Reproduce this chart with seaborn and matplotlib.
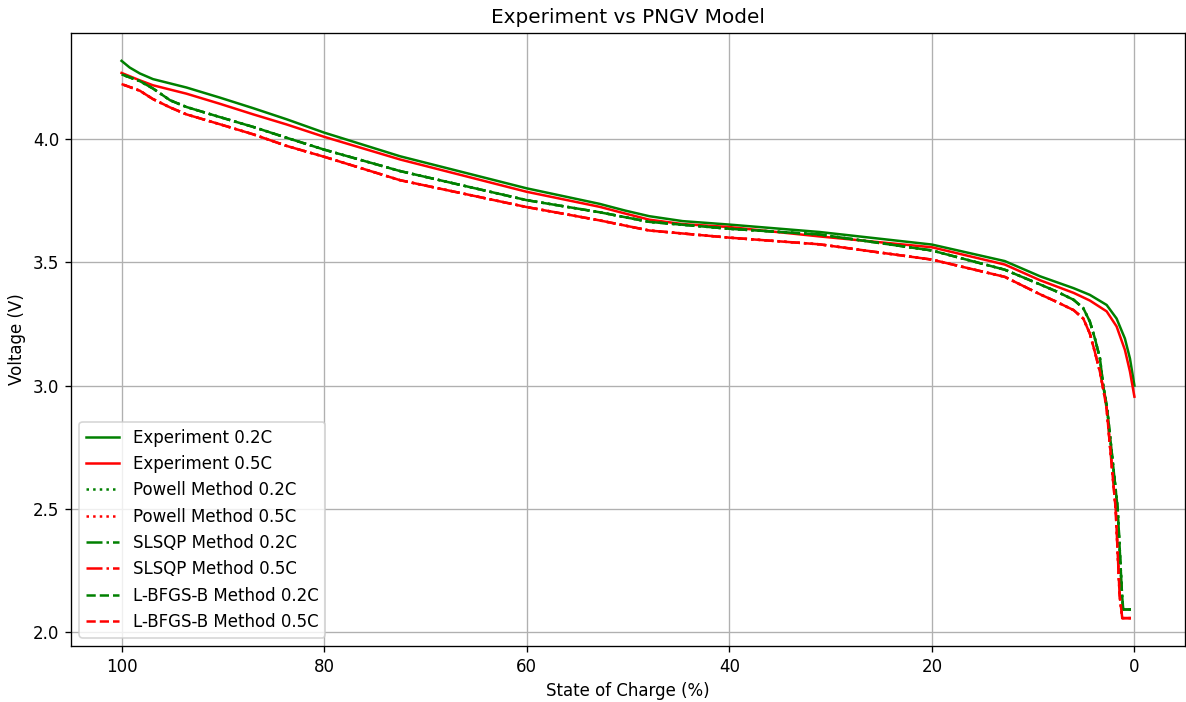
import matplotlib
matplotlib.use("Agg")
import matplotlib.pyplot as plt
import seaborn as sns

# Measured discharge curves (state of charge in %, terminal voltage in V)
soc_exp_02 = [100, 99.2, 98.2, 96.9, 93.6, 90.3, 87.0, 83.7, 80, 72.5, 60, 52.8, 50.3,
              47.9, 44.6, 40, 31.1, 20, 12.8, 9.3, 6.0, 4.4, 2.74, 1.76, 0.94, 0.44, 0]
v_exp_02 = [4.317, 4.29, 4.266, 4.243, 4.209, 4.168, 4.125, 4.08, 4.026, 3.93, 3.80, 3.737, 3.71,
            3.687, 3.667, 3.653, 3.623, 3.572, 3.505, 3.443, 3.395, 3.368, 3.327, 3.272, 3.191, 3.11, 3.0]

soc_exp_05 = [100, 98.2, 96.9, 93.6, 90.3, 87.0, 83.7, 80, 72.5, 60, 52.8, 50.3,
              47.9, 44.6, 40, 31.1, 20, 12.8, 9.3, 6.0, 4.4, 2.74, 1.76, 0.94, 0.44, 0]
v_exp_05 = [4.268, 4.238, 4.218, 4.184, 4.143, 4.10, 4.059, 4.009, 3.917, 3.786, 3.725, 3.698,
            3.673, 3.655, 3.643, 3.605, 3.561, 3.491, 3.427, 3.376, 3.345, 3.301, 3.24, 3.145, 3.057, 2.955]

# PNGV model output (the three optimisers converge to the same parameters)
soc_mod_02 = [100, 98.2, 96.9, 95.2, 93.6, 90.3, 87.0, 83.7, 80, 72.5, 60, 52.8, 47.9, 40,
              31.1, 20, 12.8, 9.3, 7.7, 6.0, 5.05, 4.4, 3.9, 3.4, 3.08, 2.7, 1.65, 1.22, 1.1, 0.34]
v_mod_02 = [4.262, 4.235, 4.205, 4.157, 4.13, 4.089, 4.049, 4.005, 3.957, 3.87, 3.752, 3.703, 3.664, 3.636,
            3.613, 3.548, 3.47, 3.41, 3.382, 3.348, 3.314, 3.26, 3.191, 3.11, 3.0, 2.91, 2.5, 2.15, 2.092, 2.092]

soc_mod_05 = [100, 98.2, 96.9, 95.2, 93.6, 90.3, 87.0, 83.7, 80, 72.5, 60, 52.8, 47.9, 40,
              31.1, 20, 12.8, 9.3, 7.7, 6.0, 5.05, 4.4, 3.9, 3.4, 3.14, 2.75, 1.85, 1.46, 1.2, 0.34]
v_mod_05 = [4.223, 4.196, 4.162, 4.128, 4.10, 4.06, 4.019, 3.972, 3.928, 3.833, 3.724, 3.67, 3.629, 3.60,
            3.573, 3.511, 3.441, 3.37, 3.34, 3.306, 3.272, 3.211, 3.136, 3.055, 3.0, 2.91, 2.5, 2.15, 2.057, 2.057]

methods = ["Powell", "SLSQP", "L-BFGS-B"]
method_styles = [":", "-.", "--"]
rates = ["0.2C", "0.5C"]
rate_colors = ["green", "red"]

fig, ax = plt.subplots(figsize=(1186 / 120, 702 / 120), dpi=120)
fig.subplots_adjust(left=0.0598, right=0.9992, top=0.953, bottom=0.0798)

exp_data = [(soc_exp_02, v_exp_02), (soc_exp_05, v_exp_05)]
mod_data = [(soc_mod_02, v_mod_02), (soc_mod_05, v_mod_05)]

for (x, y), rate, col in zip(exp_data, rates, rate_colors):
    sns.lineplot(x=x, y=y, color=col, linestyle="-", linewidth=1.5,
                 label=f"Experiment {rate}", estimator=None, ax=ax)

for method, ls in zip(methods, method_styles):
    for (x, y), rate, col in zip(mod_data, rates, rate_colors):
        sns.lineplot(x=x, y=y, color=col, linestyle=ls, linewidth=1.5,
                     label=f"{method} Method {rate}", estimator=None, ax=ax)

ax.invert_xaxis()
ax.set_title("Experiment vs PNGV Model")
ax.set_xlabel("State of Charge (%)")
ax.set_ylabel("Voltage (V)")
ax.grid(True)
ax.legend(loc="lower left")

fig.savefig("out.png", dpi=120)
